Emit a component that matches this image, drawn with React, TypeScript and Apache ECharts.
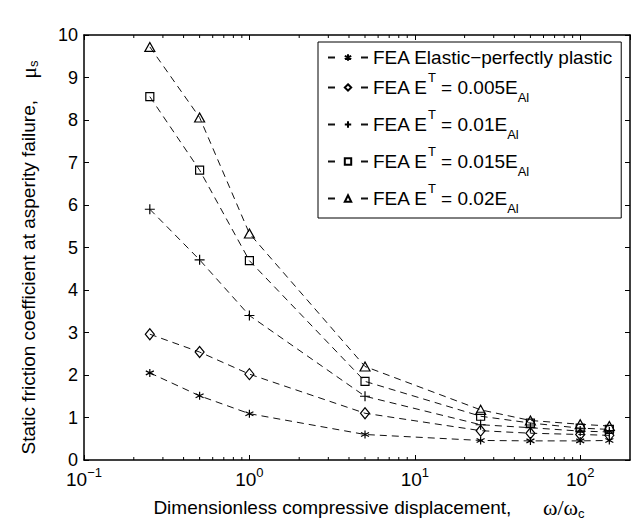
import React, { useEffect, useRef } from 'react';
import * as echarts from 'echarts';

const FONT = '"Liberation Sans", Arial, Helvetica, sans-serif';
const SERIF = '"Liberation Serif", "Times New Roman", serif';

const xValues = [0.25, 0.5, 1, 5, 25, 50, 100, 150];
const seriesNames = [
  'FEA Elastic−perfectly plastic',
  'FEA E^T = 0.005E_Al',
  'FEA E^T = 0.01E_Al',
  'FEA E^T = 0.015E_Al',
  'FEA E^T = 0.02E_Al',
];
const eppValues = [2.05, 1.51, 1.09, 0.6, 0.46, 0.45, 0.45, 0.46];
const e005Values = [2.96, 2.54, 2.02, 1.1, 0.69, 0.63, 0.6, 0.58];
const e01Values = [5.9, 4.71, 3.4, 1.5, 0.83, 0.76, 0.68, 0.66];
const e015Values = [8.55, 6.82, 4.69, 1.85, 1.03, 0.87, 0.75, 0.72];
const e02Values = [9.72, 8.06, 5.33, 2.2, 1.18, 0.93, 0.84, 0.8];
const xMinorTicks = [0.2, 0.3, 0.4, 0.5, 0.6, 0.7, 0.8, 0.9, 2, 3, 4, 5, 6, 7, 8, 9, 20, 30, 40, 50, 60, 70, 80, 90];
const xMin = 0.1;
const xMax = 200;
const yMin = 0;
const yMax = 10;

const ASTERISK = 'path://M0,-6L0,6M-5.2,-3L5.2,3M-5.2,3L5.2,-3';
const PLUS = 'path://M0,-6L0,6M-6,0L6,0';

const symbols = [ASTERISK, 'diamond', PLUS, 'rect', 'triangle'];
const symbolSizes: any[] = [8, [9, 11], 10, 8, [10, 9]];
const allValues = [eppValues, e005Values, e01Values, e015Values, e02Values];

const legendLabel = (name: string) => {
  if (name.indexOf('^T') < 0) return `{p|${name}}`;
  const m = name.match(/^FEA E\^T = (.*)E_Al$/);
  const coef = m ? m[1] : '';
  return `{n|FEA E}{sup|T}{n| = ${coef}E}{sub|Al}`;
};

export default function App() {
  const ref = useRef<HTMLDivElement>(null);
  useEffect(() => {
    if (!ref.current) return;
    const chart = echarts.init(ref.current, undefined, { renderer: 'svg' });
    const lineSeries = seriesNames.map((name, i) => ({
      name,
      type: 'line',
      xAxisIndex: 0,
      yAxisIndex: 0,
      data: xValues.map((x, j) => [x, allValues[i][j]]),
      symbol: symbols[i],
      symbolSize: symbolSizes[i],
      showAllSymbol: true,
      lineStyle: { color: '#111', width: 1, type: [7, 5] },
      itemStyle: { color: 'rgba(255,255,255,0)', borderColor: '#000', borderWidth: 1.2 },
      z: 4,
    }));
    const minorSeries = {
      type: 'custom',
      name: 'minorTicks',
      xAxisIndex: 0,
      yAxisIndex: 0,
      silent: true,
      clip: false,
      z: 5,
      data: xMinorTicks.map((v) => [v, yMin]),
      renderItem: (_params: any, api: any) => {
        const v = api.value(0);
        const b = api.coord([v, yMin]);
        const t = api.coord([v, yMax]);
        return {
          type: 'group',
          children: [
            { type: 'line', shape: { x1: b[0], y1: b[1], x2: b[0], y2: b[1] - 3 }, style: { stroke: '#000', lineWidth: 1 } },
            { type: 'line', shape: { x1: t[0], y1: t[1], x2: t[0], y2: t[1] + 3 }, style: { stroke: '#000', lineWidth: 1 } },
          ],
        };
      },
    };
    const axisLineStyle = { color: '#000', width: 1.5 };
    chart.setOption({
      animation: false,
      backgroundColor: '#fff',
      textStyle: { fontFamily: FONT },
      grid: { left: 84, right: 7, top: 35, bottom: 66, containLabel: false },
      legend: {
        data: seriesNames,
        orient: 'vertical',
        left: 318,
        top: 42,
        padding: [6, 8, 3, 9],
        itemGap: 4,
        itemWidth: 40,
        itemHeight: 8,
        borderColor: '#000',
        borderWidth: 1,
        backgroundColor: '#fff',
        lineStyle: { type: [7, 26] },
        formatter: legendLabel,
        textStyle: {
          fontFamily: FONT,
          fontSize: 19,
          color: '#000',
          rich: {
            p: { fontFamily: FONT, fontSize: 19, lineHeight: 20, color: '#000' },
            n: { fontFamily: FONT, fontSize: 19, lineHeight: 33, color: '#000' },
            sup: { fontFamily: FONT, fontSize: 13, lineHeight: 14, verticalAlign: 'top', color: '#000' },
            sub: { fontFamily: FONT, fontSize: 13, lineHeight: 11, verticalAlign: 'bottom', color: '#000' },
          },
        },
      },
      xAxis: [
        {
          type: 'log',
          logBase: 10,
          min: xMin,
          max: xMax,
          position: 'bottom',
          axisLine: { onZero: false, lineStyle: axisLineStyle },
          axisTick: { inside: true, length: 5, lineStyle: { color: '#000' } },
          splitLine: { show: false },
          axisLabel: {
            margin: 6,
            color: '#000',
            fontFamily: FONT,
            showMaxLabel: false,
            formatter: (v: number) => {
              const l = Math.log10(v);
              const e = Math.round(l);
              if (Math.abs(l - e) > 1e-6) return '';
              return `{b|10}{s|${e < 0 ? '−' : ''}${Math.abs(e)}}`;
            },
            rich: {
              b: { fontFamily: FONT, fontSize: 19, lineHeight: 26, color: '#000' },
              s: { fontFamily: FONT, fontSize: 13, lineHeight: 14, verticalAlign: 'top', color: '#000' },
            },
          },
          name: '{n|Dimensionless compressive displacement,      }{g|ω/ω}{sub|c}',
          nameLocation: 'middle',
          nameGap: 34,
          nameTextStyle: {
            color: '#000',
            padding: [0, 0, 0, 24],
            rich: {
              n: { fontFamily: FONT, fontSize: 19, lineHeight: 26, color: '#000' },
              g: { fontFamily: SERIF, fontSize: 22, lineHeight: 26, color: '#000' },
              sub: { fontFamily: FONT, fontSize: 13, lineHeight: 12, verticalAlign: 'bottom', color: '#000' },
            },
          },
        },
        {
          type: 'log',
          logBase: 10,
          min: xMin,
          max: xMax,
          position: 'top',
          axisLine: { onZero: false, lineStyle: axisLineStyle },
          axisTick: { inside: true, length: 5, lineStyle: { color: '#000' } },
          axisLabel: { show: false },
          splitLine: { show: false },
        },
      ],
      yAxis: [
        {
          type: 'value',
          min: yMin,
          max: yMax,
          interval: 1,
          position: 'left',
          axisLine: { show: true, onZero: false, lineStyle: axisLineStyle },
          axisTick: { show: true, inside: true, length: 5, lineStyle: { color: '#000' } },
          splitLine: { show: false },
          axisLabel: { color: '#000', fontFamily: FONT, fontSize: 18, margin: 6 },
          name: '{n|Static friction coefficient at asperity failure,    }{g|μ}{sub|s}',
          nameLocation: 'middle',
          nameGap: 44,
          nameRotate: 90,
          nameTextStyle: {
            color: '#000',
            padding: [0, 20, 0, 0],
            rich: {
              n: { fontFamily: FONT, fontSize: 19, lineHeight: 24, color: '#000' },
              g: { fontFamily: SERIF, fontSize: 22, lineHeight: 24, color: '#000' },
              sub: { fontFamily: FONT, fontSize: 13, lineHeight: 12, verticalAlign: 'bottom', color: '#000' },
            },
          },
        },
        {
          type: 'value',
          min: yMin,
          max: yMax,
          interval: 1,
          position: 'right',
          axisLine: { show: true, onZero: false, lineStyle: axisLineStyle },
          axisTick: { show: true, inside: true, length: 5, lineStyle: { color: '#000' } },
          splitLine: { show: false },
          axisLabel: { show: false },
        },
      ],
      series: [...lineSeries, minorSeries],
    });
    return () => chart.dispose();
  }, []);
  return <div ref={ref} style={{ width: 637, height: 526, position: 'absolute', left: 0, top: 0 }} />;
}
